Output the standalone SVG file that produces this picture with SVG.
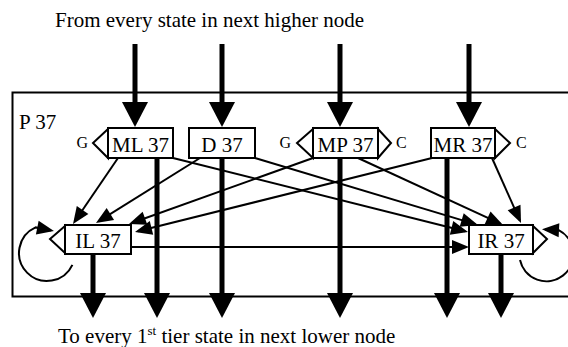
<svg xmlns="http://www.w3.org/2000/svg" width="568" height="347" viewBox="0 0 568 347">
<style>
.lbl{font-size:21px}
.sm{font-size:16px}
.box{fill:#fff;stroke:#000;stroke-width:2}
.chev{fill:#fff;stroke:#000;stroke-width:2;stroke-linejoin:miter}
.thin{fill:none;stroke:#000;stroke-width:2;marker-end:url(#ah)}
.thick{fill:none;stroke:#000;stroke-width:5;marker-end:url(#AH)}
</style>
<defs>
<marker id="ah" markerUnits="userSpaceOnUse" markerWidth="17" markerHeight="14" refX="14" refY="7" orient="auto" overflow="visible">
<path d="M0,0 L17,7 L0,14 z" fill="#000"/>
</marker>
<marker id="AH" markerUnits="userSpaceOnUse" markerWidth="25" markerHeight="26" refX="0" refY="13" orient="auto" overflow="visible">
<path d="M0,0 L25,13 L0,26 z" fill="#000"/>
</marker>
</defs>
<g font-family="'Liberation Serif', 'Times New Roman', 'DejaVu Serif', serif" fill="#000">
<rect x="12.5" y="92.5" width="570" height="204" fill="none" stroke="#000" stroke-width="2"/>
<text class="lbl" x="19" y="129">P 37</text>
<text class="lbl" x="55" y="27">From every state in next higher node</text>
<text class="lbl" x="58" y="343">To every 1<tspan font-size="13" dy="-8">st</tspan><tspan dy="8"> tier state in next lower node</tspan></text>
<g id="connectors">
<line class="thick" x1="135" y1="44" x2="135" y2="102"/>
<line class="thick" x1="222" y1="44" x2="222" y2="102"/>
<line class="thick" x1="340" y1="44" x2="340" y2="102"/>
<line class="thick" x1="469" y1="44" x2="469" y2="102"/>
<line class="thick" x1="93" y1="254" x2="93" y2="293"/>
<line class="thick" x1="157" y1="158" x2="157" y2="293"/>
<line class="thick" x1="222" y1="158" x2="222" y2="293"/>
<line class="thick" x1="340" y1="158" x2="340" y2="293"/>
<line class="thick" x1="447" y1="158" x2="447" y2="293"/>
<line class="thick" x1="501" y1="254" x2="501" y2="293"/>
<line class="thin" x1="118" y1="158" x2="74.7" y2="221.5"/>
<line class="thin" x1="200" y1="158" x2="98.5" y2="221.4"/>
<line class="thin" x1="313" y1="158" x2="131.8" y2="223"/>
<line class="thin" x1="432" y1="158" x2="137.9" y2="231.3"/>
<line class="thin" x1="173" y1="158" x2="465.1" y2="231.3"/>
<line class="thin" x1="255" y1="158" x2="475.1" y2="224.1"/>
<line class="thin" x1="358" y1="158" x2="500.3" y2="223.7"/>
<line class="thin" x1="492" y1="158" x2="519.8" y2="220.3"/>
<line class="thin" x1="131" y1="247" x2="466" y2="247"/>
<path class="thin" d="M72.4,264.8 A28,28 0 1 1 35.6,227.4 L51,230.5"/>
<path class="thin" d="M520,260 A27,27 0 1 0 558.7,230.2 L545,229.5"/>
</g>
<g id="ML37">
<polygon class="chev" points="108,129 93,143 108,158"/>
<rect class="box" x="108" y="128" width="65" height="30"/>
<text class="lbl" x="140.5" y="151.5" text-anchor="middle">ML 37</text>
<text class="sm" x="88" y="148" text-anchor="end">G</text>
</g>
<g id="D37">
<rect class="box" x="189" y="128" width="66" height="30"/>
<text class="lbl" x="222" y="151.5" text-anchor="middle">D 37</text>
</g>
<g id="MP37">
<polygon class="chev" points="313,129 297,143 313,158"/>
<polygon class="chev" points="378,129 391,143 378,158"/>
<rect class="box" x="313" y="128" width="65" height="30"/>
<text class="lbl" x="345.5" y="151.5" text-anchor="middle">MP 37</text>
<text class="sm" x="291" y="148" text-anchor="end">G</text>
<text class="sm" x="396" y="148">C</text>
</g>
<g id="MR37">
<polygon class="chev" points="495,129 510,143 495,158"/>
<rect class="box" x="431" y="128" width="64" height="30"/>
<text class="lbl" x="463" y="151.5" text-anchor="middle">MR 37</text>
<text class="sm" x="516" y="148">C</text>
</g>
<g id="IL37">
<polygon class="chev" points="65,226 50,239 65,253"/>
<rect class="box" x="65" y="225" width="66" height="29"/>
<text class="lbl" x="98" y="248" text-anchor="middle">IL 37</text>
</g>
<g id="IR37">
<polygon class="chev" points="533,226 547,239 533,253"/>
<rect class="box" x="469" y="225" width="64" height="29"/>
<text class="lbl" x="501" y="248" text-anchor="middle">IR 37</text>
</g>
</g>
</svg>
